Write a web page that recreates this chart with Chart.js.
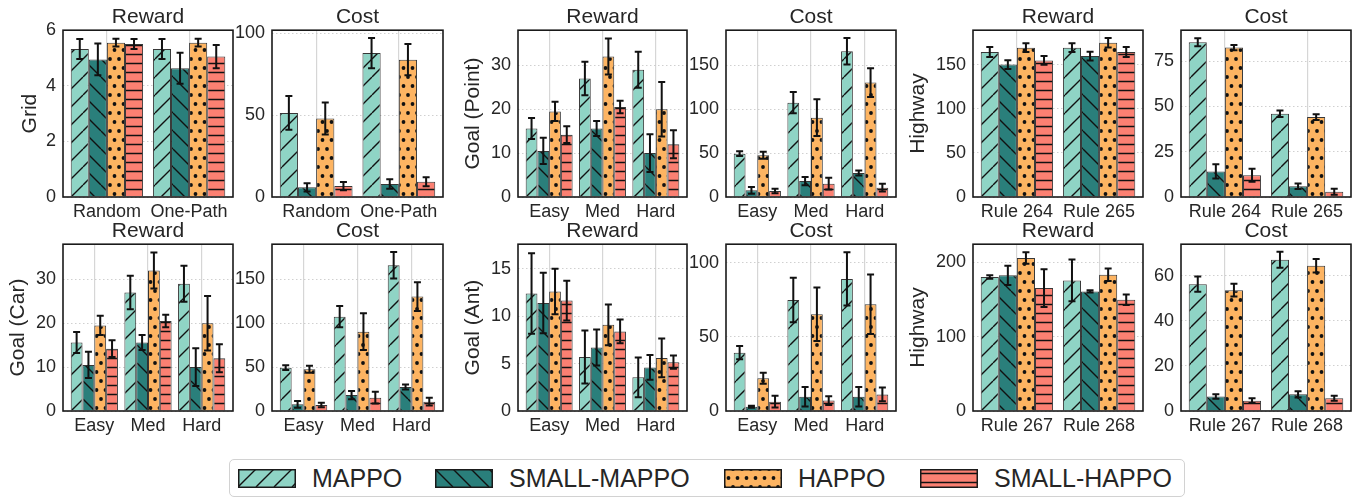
<!DOCTYPE html>
<html>
<head>
<meta charset="utf-8">
<script src="https://cdn.jsdelivr.net/npm/chart.js@4.4.1/dist/chart.umd.min.js"></script>
<style>
body { margin: 0; width: 1359px; height: 498px; overflow: hidden; background: #fff; position: relative; font-family: 'Liberation Sans', Arial, sans-serif; }
canvas.panel { position: absolute; }
#legend { position: absolute; left: 229px; top: 459px; width: 956px; height: 38px; border: 1px solid #d2d2d2; border-radius: 5px; box-sizing: border-box; }
.item { position: absolute; top: 0; height: 100%; display: flex; align-items: center; font-size: 25px; color: #262626; }
.item canvas { margin-right: 16px; }
</style>
</head>
<body>
<div id="legend"></div>
<script>
// methods (legend order)
const methods = ['MAPPO', 'SMALL-MAPPO', 'HAPPO', 'SMALL-HAPPO']

// categories
const gridCats = ['Random', 'One-Path']
const goalCats = ['Easy', 'Med', 'Hard']
const hw1Cats = ['Rule 264', 'Rule 265']
const hw2Cats = ['Rule 267', 'Rule 268']

// values: one row per method, one column per category
const gridReward = [[5.32, 5.32], [4.95, 4.63], [5.55, 5.55], [5.50, 5.05]]
const gridRewardErr = [[0.36, 0.36], [0.57, 0.56], [0.14, 0.14], [0.18, 0.42]]
const gridCost = [[51.4, 88.0], [5.9, 7.9], [48.0, 84.0], [6.7, 9.3]]
const gridCostErr = [[10.3, 9.3], [2.5, 2.9], [9.8, 9.6], [2.5, 2.8]]

// Goal (Point) and Goal (Car) show the same numbers
const goalReward = [[15.6, 27.0, 29.0], [10.5, 15.6, 10.0], [19.5, 32.0, 20.0], [14.2, 20.5, 12.0]]
const goalRewardErr = [[2.4, 3.8, 4.1], [3.0, 1.7, 4.3], [2.2, 4.1, 6.2], [1.9, 1.4, 3.2]]
const goalCost = [[49.4, 107.5, 166.0], [7.6, 18.2, 27.3], [47.5, 90.4, 130.3], [6.8, 15.2, 10.6]]
const goalCostErr = [[2.8, 12.0, 15.0], [3.8, 4.7, 2.8], [4.0, 21.0, 16.5], [2.5, 6.6, 4.4]]

const hw1Reward = [[164.3, 169.2], [150.0, 159.7], [169.2, 174.8], [154.8, 164.3]]
const hw1RewardErr = [[5.7, 5.0], [5.0, 5.0], [5.0, 5.3], [5.0, 5.7]]
const hw1Cost = [[85.4, 45.9], [14.1, 5.9], [82.4, 44.1], [12.0, 2.9]]
const hw1CostErr = [[2.2, 1.8], [3.9, 1.5], [1.4, 1.6], [3.6, 1.6]]

const antReward = [[12.4, 5.7, 3.55], [11.4, 6.7, 4.6], [12.6, 9.1, 5.6], [11.65, 8.4, 5.15]]
const antRewardErr = [[4.25, 2.8, 2.1], [3.2, 1.9, 1.3], [2.4, 2.15, 2.05], [2.1, 1.25, 0.7]]
const antCost = [[39.3, 74.8, 89.0], [2.9, 9.6, 9.6], [22.0, 65.2, 71.9], [6.3, 7.0, 11.2]]
const antCostErr = [[4.5, 15.0, 17.9], [0.7, 6.5, 6.5], [3.7, 18.0, 20.0], [3.9, 3.0, 4.6]]

const hw2Reward = [[180.0, 175.4], [182.2, 160.6], [205.5, 183.0], [165.1, 149.4]]
const hw2RewardErr = [[2.3, 28.0], [13.0, 1.5], [7.8, 8.5], [25.4, 7.0]]
const hw2Cost = [[56.25, 67.1], [6.4, 7.4], [53.6, 64.4], [4.6, 5.65]]
const hw2CostErr = [[3.4, 3.5], [1.0, 1.4], [2.8, 3.0], [1.1, 1.1]]

// y tick labels
const gridRewardTicks = [0, 2, 4, 6]
const gridCostTicks = [0, 50, 100]
const goalRewardTicks = [0, 10, 20, 30]
const goalCostTicks = [0, 50, 100, 150]
const hw1RewardTicks = [0, 50, 100, 150]
const hw1CostTicks = [0, 25, 50, 75]
const antRewardTicks = [0, 5, 10, 15]
const antCostTicks = [0, 50, 100]
const hw2RewardTicks = [0, 100, 200]
const hw2CostTicks = [0, 20, 40, 60]

Chart.defaults.font.family = "'Liberation Sans', Arial, sans-serif"
Chart.defaults.color = '#262626'

const colors = ['#8fd4c5', '#2a7f7b', '#fdb462', '#fb8072']
const hatches = ['/', '\\', '.', '-']

function hatch(color, kind) {
    const T = 18
    const c = document.createElement('canvas')
    c.width = T
    c.height = T
    const g = c.getContext('2d')
    g.fillStyle = color
    g.fillRect(0, 0, T, T)
    g.strokeStyle = '#111'
    g.fillStyle = '#111'
    g.lineWidth = 1.4
    if (kind == '/' || kind == '\\') {
        g.beginPath()
        for (let k = -1; k <= 1; k++) {
            if (kind == '/') { g.moveTo(k * T, T); g.lineTo(k * T + T, 0) }
            else { g.moveTo(k * T, 0); g.lineTo(k * T + T, T) }
        }
        g.stroke()
    } else if (kind == '-') {
        g.beginPath()
        g.moveTo(0, 4.5); g.lineTo(T, 4.5)
        g.moveTo(0, 13.5); g.lineTo(T, 13.5)
        g.stroke()
    } else {
        [[0, 0], [9, 0], [18, 0], [0, 18], [9, 18], [18, 18], [4.5, 9], [13.5, 9]].forEach(([x, y]) => {
            g.beginPath()
            g.arc(x, y, 1.9, 0, Math.PI * 2)
            g.fill()
        })
    }
    return g.createPattern(c, 'repeat')
}

const patterns = colors.map((c, k) => hatch(c, hatches[k]))

// error bars + axes frame
const errorBarsAndFrame = {
    id: 'errorBarsAndFrame',
    afterDatasetsDraw(chart) {
        const ctx = chart.ctx
        const y = chart.scales.y
        ctx.save()
        ctx.strokeStyle = '#111'
        ctx.lineWidth = 2
        chart.data.datasets.forEach((ds, i) => {
            chart.getDatasetMeta(i).data.forEach((bar, j) => {
                const v = ds.data[j].y
                const e = ds.errors[j]
                const top = y.getPixelForValue(v + e)
                const bot = y.getPixelForValue(v - e)
                ctx.beginPath()
                ctx.moveTo(bar.x, top); ctx.lineTo(bar.x, bot)
                ctx.moveTo(bar.x - 3.5, top); ctx.lineTo(bar.x + 3.5, top)
                ctx.moveTo(bar.x - 3.5, bot); ctx.lineTo(bar.x + 3.5, bot)
                ctx.stroke()
            })
        })
        const a = chart.chartArea
        ctx.lineWidth = 1.6
        ctx.strokeStyle = '#1a1a1a'
        ctx.strokeRect(a.left, a.top, a.right - a.left, a.bottom - a.top)
        ctx.restore()
    }
}

const cols = [[63, 233], [272, 443], [518, 687], [726, 896], [973, 1143], [1181, 1351]]
const rows = [[30, 197], [244, 411]]

const panels = [
    { col: 0, row: 0, title: 'Reward', ylabel: 'Grid', yoff: 33, cats: gridCats, vals: gridReward, errs: gridRewardErr, ticks: gridRewardTicks, max: 6.0 },
    { col: 1, row: 0, title: 'Cost', cats: gridCats, vals: gridCost, errs: gridCostErr, ticks: gridCostTicks, max: 102 },
    { col: 2, row: 0, title: 'Reward', ylabel: 'Goal (Point)', yoff: 45, cats: goalCats, vals: goalReward, errs: goalRewardErr, ticks: goalRewardTicks, max: 38 },
    { col: 3, row: 0, title: 'Cost', cats: goalCats, vals: goalCost, errs: goalCostErr, ticks: goalCostTicks, max: 190 },
    { col: 4, row: 0, title: 'Reward', ylabel: 'Highway', yoff: 55, cats: hw1Cats, vals: hw1Reward, errs: hw1RewardErr, ticks: hw1RewardTicks, max: 189 },
    { col: 5, row: 0, title: 'Cost', cats: hw1Cats, vals: hw1Cost, errs: hw1CostErr, ticks: hw1CostTicks, max: 92 },
    { col: 0, row: 1, title: 'Reward', ylabel: 'Goal (Car)', yoff: 45, cats: goalCats, vals: goalReward, errs: goalRewardErr, ticks: goalRewardTicks, max: 38 },
    { col: 1, row: 1, title: 'Cost', cats: goalCats, vals: goalCost, errs: goalCostErr, ticks: goalCostTicks, max: 190 },
    { col: 2, row: 1, title: 'Reward', ylabel: 'Goal (Ant)', yoff: 45, cats: goalCats, vals: antReward, errs: antRewardErr, ticks: antRewardTicks, max: 17.6 },
    { col: 3, row: 1, title: 'Cost', cats: goalCats, vals: antCost, errs: antCostErr, ticks: antCostTicks, max: 112.4 },
    { col: 4, row: 1, title: 'Reward', ylabel: 'Highway', yoff: 55, cats: hw2Cats, vals: hw2Reward, errs: hw2RewardErr, ticks: hw2RewardTicks, max: 224 },
    { col: 5, row: 1, title: 'Cost', cats: hw2Cats, vals: hw2Cost, errs: hw2CostErr, ticks: hw2CostTicks, max: 74 }
]

function makePanel(p) {
    const [l, r] = cols[p.col]
    const [t, b] = rows[p.row]
    const yw = p.ylabel ? 70 : 44
    const left = l - yw, top = t - 25
    const cv = document.createElement('canvas')
    cv.className = 'panel'
    cv.width = r - left + 3
    cv.height = b - top + 30
    cv.style.left = left + 'px'
    cv.style.top = top + 'px'
    document.body.appendChild(cv)

    const n = p.cats.length
    const margin = 0.05 * (n - 1 + 0.88)
    new Chart(cv, {
        type: 'bar',
        data: {
            datasets: methods.map((m, k) => ({
                label: m,
                data: p.vals[k].map((v, i) => ({ x: i, y: v })),
                errors: p.errs[k],
                backgroundColor: patterns[k],
                borderColor: 'rgba(20,20,20,0.85)',
                borderWidth: 1,
                categoryPercentage: 0.88,
                barPercentage: 1.0
            }))
        },
        options: {
            responsive: false,
            animation: false,
            events: [],
            layout: { padding: { left: 0, right: 3, top: 0, bottom: 0 } },
            plugins: {
                legend: { display: false },
                tooltip: { enabled: false },
                title: { display: true, fullSize: false, text: p.title, font: { size: 21, weight: 'normal' }, padding: 0, color: '#262626' }
            },
            scales: {
                x: {
                    type: 'linear',
                    min: -0.44 - margin,
                    max: n - 1 + 0.44 + margin,
                    offset: false,
                    afterBuildTicks: a => { a.ticks = p.cats.map((c, i) => ({ value: i })) },
                    afterFit: a => { a.height = 30 },
                    ticks: { callback: v => p.cats[v], font: { size: 18 }, padding: 4, maxRotation: 0, autoSkip: false },
                    grid: { color: '#d6d6d6', lineWidth: 1.2, drawTicks: false, offset: false },
                    border: { display: false, dash: [] }
                },
                y: {
                    min: 0,
                    max: p.max,
                    afterBuildTicks: a => { a.ticks = p.ticks.map(v => ({ value: v })) },
                    afterFit: a => { a.width = yw },
                    ticks: { font: { size: 18 }, padding: 7 },
                    grid: { color: '#c4c4c4', lineWidth: 0.8, drawTicks: false },
                    border: { display: false, dash: [1.5, 2.5] },
                    title: p.ylabel
                        ? { display: true, text: p.ylabel, font: { size: 21 }, padding: { top: yw - p.yoff - 12.6, bottom: 0 } }
                        : { display: false }
                }
            }
        },
        plugins: [errorBarsAndFrame]
    })
}

panels.forEach(makePanel)

// legend
const legend = document.getElementById('legend')
const legendX = [8, 205, 494, 690]
methods.forEach((m, k) => {
    const item = document.createElement('div')
    item.className = 'item'
    item.style.left = legendX[k] + 'px'
    const sw = document.createElement('canvas')
    sw.width = 58
    sw.height = 19
    const g = sw.getContext('2d')
    g.fillStyle = patterns[k]
    g.fillRect(0, 0, 58, 19)
    g.strokeStyle = '#1a1a1a'
    g.lineWidth = 1.5
    g.strokeRect(0.75, 0.75, 56.5, 17.5)
    item.appendChild(sw)
    const txt = document.createElement('span')
    txt.textContent = m
    item.appendChild(txt)
    legend.appendChild(item)
})
</script>
</body>
</html>
